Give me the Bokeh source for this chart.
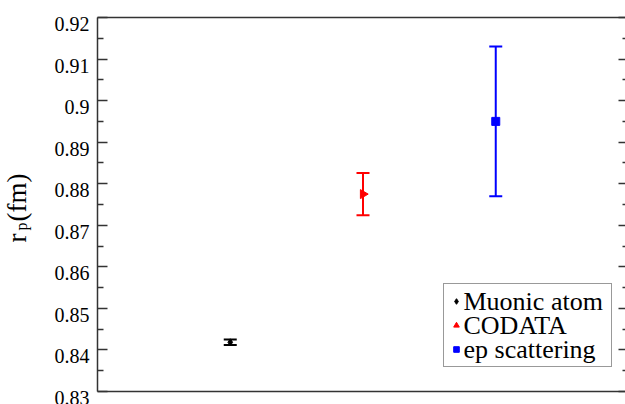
import math
from bokeh.plotting import figure
from bokeh.models import (ColumnDataSource, Range1d, FixedTicker, LinearAxis, Whisker,
                          TeeHead, Label, Legend, LegendItem)
from bokeh.embed import file_html
from bokeh.resources import INLINE

# ---- data ----
names = ["Muonic atom", "CODATA", "ep scattering"]
x_pos = [1, 2, 3]
rp_values = [0.84184, 0.8775, 0.895]
rp_errors = [0.00067, 0.0051, 0.018]
colors = ["black", "#ff0000", "#0000ff"]
markers = ["diamond", "triangle", "square"]
marker_sizes = [7, 9, 8]
marker_angles = [0, -math.pi / 2, 0]

y_ticks = [0.83, 0.84, 0.85, 0.86, 0.87, 0.88, 0.89, 0.90, 0.91, 0.92]
y_tick_labels = ["0.83", "0.84", "0.85", "0.86", "0.87", "0.88", "0.89", "0.9", "0.91", "0.92"]
y_minor = [0.835, 0.845, 0.855, 0.865, 0.875, 0.885, 0.895, 0.905, 0.915]
y_min, y_max = 0.83, 0.92
x_min, x_max = 0, 4

FONT = "Times New Roman"
AX = "#333333"
W, H = 625, 404
# plot box placement in pixels (layout, not data)
LEFT_PX, TOP_PX, BOTTOM_PX, RIGHT_PX = 97, 17, 391, 628
sx = (RIGHT_PX - LEFT_PX) / (x_max - x_min)
sy = (BOTTOM_PX - TOP_PX) / (y_max - y_min)

x_range = Range1d(x_min - LEFT_PX / sx, x_min + (W - LEFT_PX) / sx)
y_range = Range1d(y_min - (H - BOTTOM_PX) / sy, y_max + TOP_PX / sy)

p = figure(width=W, height=H, output_backend="svg", toolbar_location=None,
           x_range=x_range, y_range=y_range,
           x_axis_location=None, y_axis_location=None, min_border=0)
p.outline_line_color = None
p.grid.visible = False
p.background_fill_color = "white"
p.border_fill_color = "white"


def frame_axis(side, loc, bounds, ticks, minor, tick_in, minor_in):
    ax = LinearAxis(fixed_location=loc, bounds=bounds,
                    ticker=FixedTicker(ticks=ticks, minor_ticks=minor),
                    major_label_text_font_size="0px", major_label_text_color=None,
                    major_label_standoff=0, axis_label_standoff=0,
                    major_tick_in=tick_in, major_tick_out=0,
                    minor_tick_in=minor_in, minor_tick_out=0,
                    axis_line_color=AX, axis_line_width=1.5,
                    major_tick_line_color=AX if ticks else None,
                    minor_tick_line_color=AX if minor else None,
                    major_tick_line_width=1.3, minor_tick_line_width=1.3)
    p.add_layout(ax, side)
    return ax


frame_axis("left", x_min, (y_min, y_max), y_ticks, y_minor, 10, 6)
frame_axis("right", x_max, (y_min, y_max), y_ticks, y_minor, 10, 6)
frame_axis("above", y_max, (x_min, x_max), [], [], 0, 0)
frame_axis("below", y_min, (x_min, x_max), [], [], 0, 0)

# y tick labels (text annotations placed through the y scale)
for t, lab in zip(y_ticks, y_tick_labels):
    p.add_layout(Label(x=x_min, y=t, text=lab, x_offset=-8, y_offset=-6.5,
                       text_align="right", text_baseline="alphabetic", text_font=FONT,
                       text_font_size="20px", text_color="black"))

items = []
for i in range(3):
    src = ColumnDataSource(dict(x=[x_pos[i]], y=[rp_values[i]],
                                upper=[rp_values[i] + rp_errors[i]],
                                lower=[rp_values[i] - rp_errors[i]]))
    w = Whisker(source=src, base="x", upper="upper", lower="lower",
                line_color=colors[i], line_width=2,
                upper_head=TeeHead(size=13, line_color=colors[i], line_width=2),
                lower_head=TeeHead(size=13, line_color=colors[i], line_width=2))
    p.add_layout(w)
    r = p.scatter("x", "y", source=src, marker=markers[i], size=marker_sizes[i],
                  angle=marker_angles[i], fill_color=colors[i], line_color=colors[i])
    items.append(LegendItem(label=names[i], renderers=[r]))

# legend: box and glyphs from Bokeh's Legend, texts as Labels on top
LEG_X, LEG_Y, LEG_ROW, LEG_PAD, LEG_GW = 443, 285, 24, 5, 14
legend = Legend(items=items, location=(LEG_X, H - LEG_Y - (3 * LEG_ROW + 2 * LEG_PAD)),
                label_text_font_size="1px", label_text_color=None,
                padding=LEG_PAD, spacing=0, margin=0, glyph_width=LEG_GW,
                glyph_height=LEG_ROW, label_height=LEG_ROW, label_width=137,
                label_standoff=6, border_line_color=AX, border_line_width=1.2,
                background_fill_color=None, background_fill_alpha=0.0)
p.add_layout(legend)
for i, name in enumerate(names):
    baseline = LEG_Y + LEG_PAD + LEG_ROW * (i + 0.5) - 1
    p.add_layout(Label(x=463, y=H - baseline,
                       x_units="screen", y_units="screen", level="overlay",
                       text=name, text_font=FONT, text_font_size="26px", text_color="black",
                       text_align="left", text_baseline="alphabetic"))

# axis title r_p (fm), rotated
title_parts = [("r", "27px", 16, 242), ("p", "16px", 21, 230), ("(fm)", "27px", 16, 221)]
for txt, fs, bx, by in title_parts:
    p.add_layout(Label(x=bx, y=H - by, x_units="screen", y_units="screen", text=txt,
                       angle=math.pi / 2, text_font=FONT, text_font_size=fs,
                       text_color="black", text_baseline="alphabetic", text_align="left"))

open("out.html", "w").write(file_html(p, INLINE))
